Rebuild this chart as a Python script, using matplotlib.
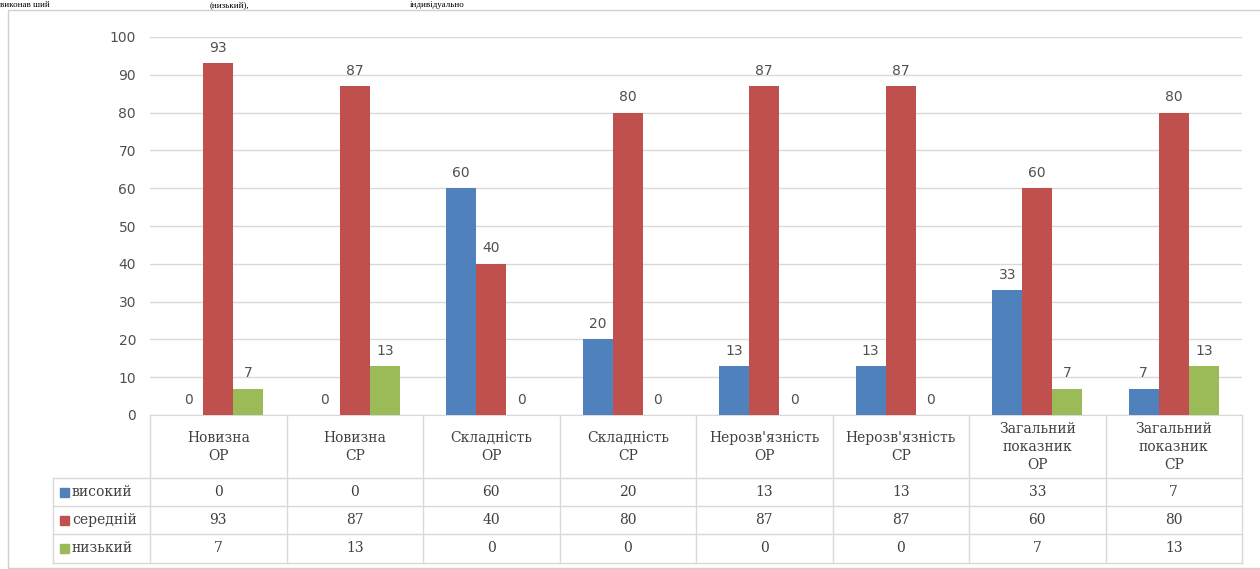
import matplotlib
matplotlib.use("Agg")
import matplotlib.pyplot as plt
from matplotlib.patches import Rectangle
import numpy as np

categories = ["Новизна\nОР", "Новизна\nСР", "Складність\nОР", "Складність\nСР",
              "Нерозв'язність\nОР", "Нерозв'язність\nСР",
              "Загальний\nпоказник\nОР", "Загальний\nпоказник\nСР"]
series_names = ["високий", "середній", "низький"]
high = [0, 0, 60, 20, 13, 13, 33, 7]
mid = [93, 87, 40, 80, 87, 87, 60, 80]
low = [7, 13, 0, 0, 0, 0, 7, 13]
yticks = [0, 10, 20, 30, 40, 50, 60, 70, 80, 90, 100]
colors = ["#4F81BD", "#C0504D", "#9BBB59"]

W, H = 1260, 569
fig = plt.figure(figsize=(W / 100, H / 100), dpi=100)

def fx(px):
    return px / W

def fy(py):
    return 1 - py / H

# frame
fig.patches.append(Rectangle((fx(8), fy(568)), fx(1300) - fx(8), fy(10) - fy(568),
                             transform=fig.transFigure, fill=False,
                             edgecolor="#D0D0D0", lw=1.0))

# text line above the chart
for txt, x in [("виконав ший", 0), ("(низький),", 210), ("індивідуально", 410)]:
    fig.text(fx(x), fy(1), txt, family="Liberation Serif", fontsize=6.5,
             va="top", ha="left", color="black")

left, right, top, bottom = 150, 1242, 37, 415
ax = fig.add_axes([fx(left), fy(bottom), fx(right) - fx(left), fy(top) - fy(bottom)])

n = len(categories)
x = np.arange(n)
bw = 0.22
series = [high, mid, low]
for k, (vals, c) in enumerate(zip(series, colors)):
    pos = x + (k - 1) * bw
    ax.bar(pos, vals, width=bw, color=c, zorder=3)
    for p, v in zip(pos, vals):
        ax.annotate(str(v), (p, v), xytext=(0, 6), textcoords="offset points",
                    ha="center", va="bottom", fontsize=10, color="#505050",
                    family="DejaVu Sans")

ax.set_xlim(-0.5, n - 0.5)
ax.set_ylim(0, 100)
ax.set_yticks(yticks)
ax.set_yticklabels([str(t) for t in yticks], fontsize=10, color="#505050",
                   family="DejaVu Sans")
ax.tick_params(axis="y", length=0, pad=10)
ax.set_xticks([])
ax.grid(axis="y", color="#D9D9D9", lw=1, zorder=0)
for s in ["top", "right", "left"]:
    ax.spines[s].set_visible(False)
ax.spines["bottom"].set_color("#D9D9D9")

# table drawn below the axes
tr = ax.get_xaxis_transform()
ah = bottom - top

def ay(py):
    return (bottom - py) / ah

hdr = ay(478)
rows = [ay(478), ay(506), ay(534), ay(563)]
xl = -0.5 - (left - 53) / ((right - left) / n)
lc = "#D9D9D9"
for k in range(n + 1):
    ax.plot([k - 0.5, k - 0.5], [0, rows[-1]], transform=tr, color=lc, lw=1,
            clip_on=False)
ax.plot([xl, xl], [hdr, rows[-1]], transform=tr, color=lc, lw=1, clip_on=False)
for r in rows:
    ax.plot([xl, n - 0.5], [r, r], transform=tr, color=lc, lw=1, clip_on=False)

tcol = "#404040"
for i, cat in enumerate(categories):
    ax.text(i, ay(447), cat, transform=tr, ha="center", va="center", fontsize=10,
            family="DejaVu Serif", color=tcol, linespacing=1.4, clip_on=False)
for r, (name, vals, c) in enumerate(zip(series_names, series, colors)):
    yc = (rows[r] + rows[r + 1]) / 2
    for i, v in enumerate(vals):
        ax.text(i, yc, str(v), transform=tr, ha="center", va="center", fontsize=10,
                family="DejaVu Serif", color=tcol, clip_on=False)
    fig.patches.append(Rectangle((fx(60), fy(bottom - ah * yc) - 4.5 / H), 9 / W, 9 / H,
                                 transform=fig.transFigure, color=c))
    ax.text(xl + 19 / ((right - left) / n), yc, name, transform=tr, ha="left",
            va="center", fontsize=10, family="DejaVu Serif", color=tcol,
            clip_on=False)

fig.savefig("out.png", dpi=100)
